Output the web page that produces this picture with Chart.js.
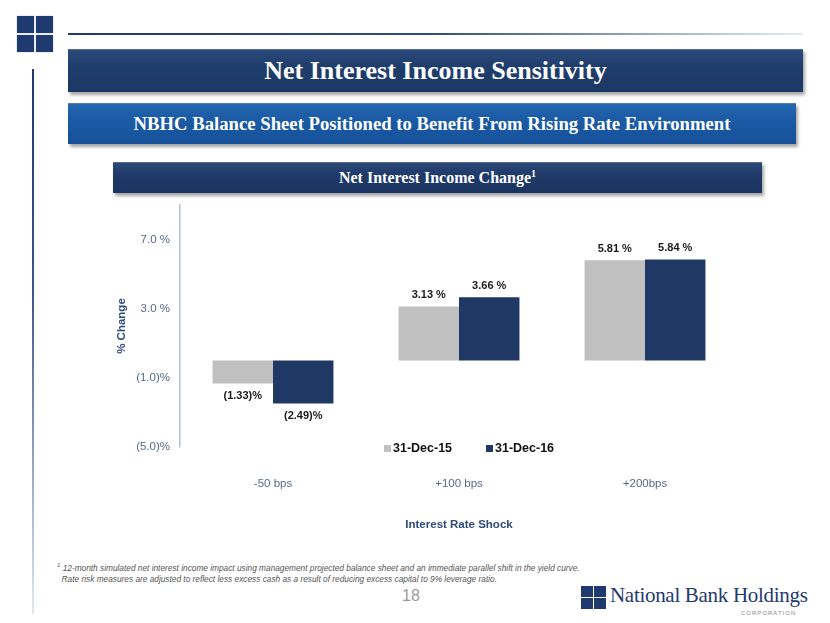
<!DOCTYPE html>
<html lang="en">

<head>
    <meta charset="UTF-8">
    <title>Net Interest Income Sensitivity</title>
    <style>
        body {
            margin: 0;
            background: #ffffff;
        }

        .slide {
            position: relative;
            width: 830px;
            height: 623px;
            overflow: hidden;
            background: #ffffff;
        }

        .sq {
            position: absolute;
            width: 17px;
            height: 17px;
            background-color: #1f3a6e;
            box-shadow: 0 0 1px #7f93b8;
        }

        #topLine {
            position: absolute;
            left: 68px;
            top: 33px;
            width: 735px;
            height: 2px;
            background: linear-gradient(to right, #1f3a6e 0%, #2f4f82 50%, #e6ecf4 100%);
        }

        #sideLine {
            position: absolute;
            left: 32px;
            top: 69px;
            width: 2px;
            height: 545px;
            background: linear-gradient(to bottom, #1f3a6e 0%, #3b5787 40%, #e3e7ee 100%);
        }

        .banner {
            position: absolute;
            color: #ffffff;
            font-family: "Liberation Serif", serif;
            font-weight: bold;
            text-align: center;
            box-shadow: 2px 3px 3px rgba(0, 0, 0, 0.35);
            border-top: 1px solid rgba(255, 255, 255, 0.25);
        }

        #b1 {
            left: 68px;
            top: 49px;
            width: 735px;
            height: 42px;
            line-height: 42px;
            font-size: 26px;
            background: linear-gradient(to bottom, #2b4b7c, #1f3d6c 40%, #1c3864);
        }

        #b2 {
            left: 68px;
            top: 103px;
            width: 728px;
            height: 40px;
            line-height: 40px;
            font-size: 18.7px;
            background: linear-gradient(to bottom, #2466b0, #1b5aa5 40%, #17519a);
        }

        #b3 {
            left: 113px;
            top: 162px;
            width: 649px;
            height: 30px;
            line-height: 30px;
            font-size: 16px;
            background: linear-gradient(to bottom, #2a4878, #1f3a68 40%, #1b3460);
        }

        #b3 sup {
            font-size: 10px;
            line-height: 0;
        }

        #chartBox {
            position: absolute;
            left: 100px;
            top: 200px;
        }

        #note {
            position: absolute;
            left: 57px;
            top: 560px;
            font-family: "Liberation Sans", Arial, sans-serif;
            font-style: italic;
            font-size: 8.3px;
            line-height: 11px;
            color: #555555;
        }

        #note sup {
            font-size: 6px;
        }

        #pageNo {
            position: absolute;
            left: 402px;
            top: 587px;
            font-family: "Liberation Sans Narrow", "Liberation Sans", sans-serif;
            font-size: 16px;
            color: #9a9a9a;
        }

        .lsq {
            position: absolute;
            width: 12px;
            height: 11px;
            background-color: #1f3a6e;
        }

        #logoText {
            position: absolute;
            left: 610px;
            top: 583px;
            font-family: "Liberation Serif", serif;
            font-size: 21px;
            color: #1f3a6e;
            letter-spacing: -0.3px;
        }

        #corp {
            position: absolute;
            left: 741px;
            top: 610px;
            font-family: "Liberation Sans", sans-serif;
            font-size: 6px;
            letter-spacing: 1px;
            color: #8a8a8a;
        }
    </style>
</head>

<body>
    <div class="slide">
        <!-- top left logo mark -->
        <div class="sq" style="left:17px;top:16px"></div>
        <div class="sq" style="left:36px;top:16px"></div>
        <div class="sq" style="left:17px;top:35px"></div>
        <div class="sq" style="left:36px;top:35px"></div>
        <div id="topLine"></div>
        <div id="sideLine"></div>

        <div class="banner" id="b1">Net Interest Income Sensitivity</div>
        <div class="banner" id="b2">NBHC Balance Sheet Positioned to Benefit From Rising Rate Environment</div>
        <div class="banner" id="b3">Net Interest Income Change<sup>1</sup></div>

        <div id="chartBox">
            <canvas id="myChart" width="660" height="340"></canvas>
        </div>

        <div id="note"><sup>1</sup> 12-month simulated net interest income impact using management projected balance sheet and an immediate parallel shift in the yield curve.<br>
            &nbsp;&nbsp;Rate risk measures are adjusted to reflect less excess cash as a result of reducing excess capital to 9% leverage ratio.</div>
        <div id="pageNo">18</div>

        <!-- bottom right logo -->
        <div class="lsq" style="left:581px;top:586px"></div>
        <div class="lsq" style="left:594px;top:586px"></div>
        <div class="lsq" style="left:581px;top:598px"></div>
        <div class="lsq" style="left:594px;top:598px"></div>
        <div id="logoText">National Bank Holdings</div>
        <div id="corp">CORPORATION</div>
    </div>

    <script src="https://cdn.jsdelivr.net/npm/chart.js"></script>

    <script>
        // Chart data
        const categories = ['-50 bps', '+100 bps', '+200bps'];
        const seriesNames = ['31-Dec-15', '31-Dec-16'];
        const dec15 = [-1.33, 3.13, 5.81];
        const dec16 = [-2.49, 3.66, 5.84];
        const yTicks = [-5, -1, 3, 7];

        const grey = '#c0c0c0';
        const navy = '#1f3864';
        const tickColor = '#56688c';
        const titleColor = '#2e4a7d';

        // percent formats used on the slide
        function axisFmt(v) {
            return v < 0 ? '(' + Math.abs(v).toFixed(1) + ')%' : v.toFixed(1) + ' %';
        }
        function labelFmt(v) {
            return v < 0 ? '(' + Math.abs(v).toFixed(2) + ')%' : v.toFixed(2) + ' %';
        }

        // value labels above / below each bar
        const valueLabels = {
            id: 'valueLabels',
            afterDatasetsDraw(chart) {
                const ctx = chart.ctx;
                ctx.save();
                ctx.font = 'bold 11px "Liberation Sans", Arial, sans-serif';
                ctx.fillStyle = '#1a1a1a';
                ctx.textAlign = 'center';
                chart.data.datasets.forEach((ds, i) => {
                    chart.getDatasetMeta(i).data.forEach((bar, j) => {
                        const v = ds.data[j];
                        if (v >= 0) {
                            ctx.textBaseline = 'bottom';
                            ctx.fillText(labelFmt(v), bar.x, bar.y - 6);
                        } else {
                            ctx.textBaseline = 'top';
                            ctx.fillText(labelFmt(v), bar.x, bar.y + 7);
                        }
                    });
                });
                ctx.restore();
            }
        };

        // legend sits just under the plot, above the category labels
        const lowLegend = {
            id: 'lowLegend',
            afterDraw(chart) {
                const ctx = chart.ctx;
                const y = chart.chartArea.bottom + 1;
                const xs = [284, 386];
                ctx.save();
                ctx.font = 'bold 12.5px "Liberation Sans", Arial, sans-serif';
                ctx.textBaseline = 'middle';
                ctx.textAlign = 'left';
                chart.data.datasets.forEach((ds, i) => {
                    ctx.fillStyle = ds.backgroundColor;
                    ctx.fillRect(xs[i], y - 3, 7, 7);
                    ctx.fillStyle = '#111111';
                    ctx.fillText(ds.label, xs[i] + 9, y + 1);
                });
                ctx.restore();
            }
        };

        const data = {
            labels: categories,
            datasets: [{
                label: seriesNames[0],
                backgroundColor: grey,
                data: dec15,
                categoryPercentage: 0.65,
                barPercentage: 1.0
            }, {
                label: seriesNames[1],
                backgroundColor: navy,
                data: dec16,
                categoryPercentage: 0.65,
                barPercentage: 1.0
            }]
        };

        const config = {
            type: 'bar',
            data: data,
            options: {
                responsive: false,
                animation: false,
                layout: {
                    padding: { top: 5, right: 22, left: 0, bottom: 0 }
                },
                plugins: {
                    legend: { display: false },
                    tooltip: { enabled: false }
                },
                scales: {
                    x: {
                        grid: { display: false, drawTicks: false },
                        border: { display: false },
                        ticks: {
                            padding: 30,
                            color: tickColor,
                            font: { family: '"Liberation Sans", Arial, sans-serif', size: 11.5 }
                        },
                        title: {
                            display: true,
                            text: 'Interest Rate Shock',
                            color: titleColor,
                            padding: { top: 0, bottom: 8 },
                            font: { family: '"Liberation Sans", Arial, sans-serif', size: 11.5, weight: 'bold' }
                        },
                        afterFit(scale) { scale.height = 93; }
                    },
                    y: {
                        min: -5,
                        max: 9,
                        afterBuildTicks(scale) {
                            scale.ticks = yTicks.map(v => ({ value: v }));
                        },
                        grid: {
                            drawTicks: false,
                            lineWidth: 1.5,
                            color: c => (c.tick && c.tick.value === 0) ? '#b4bfd3' : 'rgba(0,0,0,0)'
                        },
                        border: { display: true, color: '#b4bfd3', width: 1.5 },
                        ticks: {
                            padding: 10,
                            color: tickColor,
                            font: { family: '"Liberation Sans", Arial, sans-serif', size: 11.5 },
                            callback: v => axisFmt(v)
                        },
                        title: {
                            display: true,
                            text: '% Change',
                            color: titleColor,
                            padding: { top: 15, bottom: 0 },
                            font: { family: '"Liberation Sans", Arial, sans-serif', size: 11.5, weight: 'bold' }
                        },
                        afterFit(scale) {
                            scale.width = 80;
                            scale.paddingTop = 0;
                            scale.paddingBottom = 0;
                        }
                    }
                }
            },
            plugins: [valueLabels, lowLegend]
        };

        const myChart = new Chart(
            document.getElementById('myChart'),
            config
        );
    </script>
</body>

</html>
